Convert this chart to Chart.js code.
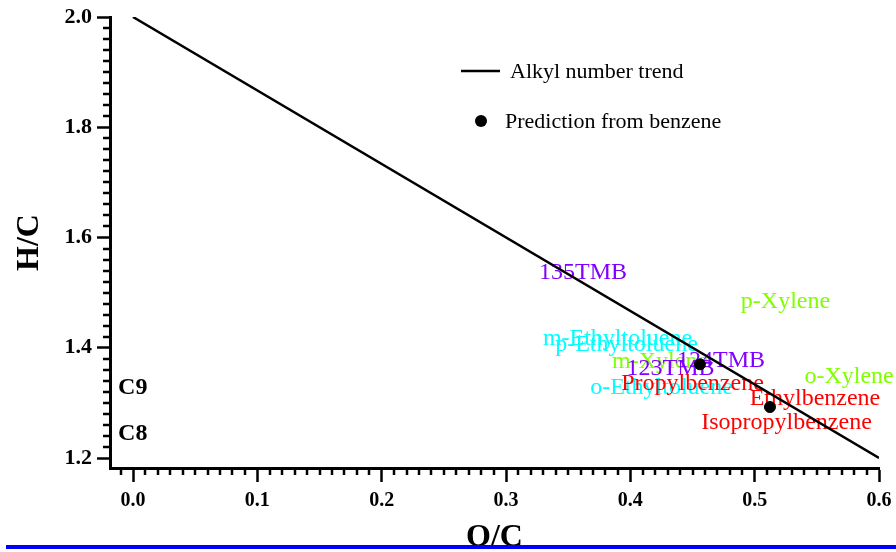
<!DOCTYPE html>
<html lang="en">
<head>
  <meta charset="UTF-8">
  <title>H/C vs O/C</title>
  <script src="https://cdn.jsdelivr.net/npm/chart.js"></script>
  <style>
    html, body { margin: 0; padding: 0; background: #fff; }
    #wrap { width: 896px; height: 552px; }
  </style>
</head>
<body>
  <div id="wrap"><canvas id="chart" width="896" height="552"></canvas></div>

  <script>
    // trend line and predicted points
    const trendOC = [0, 0.6];
    const trendHC = [2.0, 1.2];
    const predOC  = [0.456, 0.5123];
    const predHC  = [1.370, 1.2925];

    // compound labels (drawn in this order)
    const compoundNames  = ['m-Ethyltoluene', 'p-Ethyltoluene', 'o-Ethyltoluene',
                            'p-Xylene', 'm-Xylene', 'o-Xylene',
                            '135TMB', '124TMB', '123TMB',
                            'Propylbenzene', 'Ethylbenzene', 'Isopropylbenzene'];
    const compoundOC     = [0.3897, 0.3969, 0.4251,
                            0.5248, 0.4239, 0.5759,
                            0.3620, 0.4729, 0.4323,
                            0.4500, 0.5485, 0.5256];
    const compoundHC     = [1.420, 1.409, 1.332,
                            1.488, 1.378, 1.351,
                            1.539, 1.381, 1.365,
                            1.338, 1.311, 1.267];
    const compoundColors = ['#00ffff', '#00ffff', '#00ffff',
                            '#80ff00', '#80ff00', '#80ff00',
                            '#8000ff', '#8000ff', '#8000ff',
                            '#ff0000', '#ff0000', '#ff0000'];

    const carbonLabels = ['C9', 'C8'];
    const carbonHC     = [1.333, 1.25];

    const xTicks = [0, 0.1, 0.2, 0.3, 0.4, 0.5, 0.6];
    const yTicks = [1.2, 1.4, 1.6, 1.8, 2.0];

    const SERIF = '"Liberation Serif", "Times New Roman", serif';

    const decor = {
      id: 'decor',
      beforeDatasetsDraw(chart) {
        const { ctx, scales: { x, y } } = chart;
        ctx.save();
        ctx.font = '24px ' + SERIF;
        ctx.textAlign = 'center';
        ctx.textBaseline = 'middle';
        compoundNames.forEach((n, i) => {
          ctx.fillStyle = compoundColors[i];
          ctx.fillText(n, x.getPixelForValue(compoundOC[i]), y.getPixelForValue(compoundHC[i]) + 2);
        });
        ctx.font = 'bold 24px ' + SERIF;
        ctx.textAlign = 'left';
        ctx.fillStyle = '#000';
        carbonLabels.forEach((t, i) => {
          ctx.fillText(t, x.getPixelForValue(-0.012), y.getPixelForValue(carbonHC[i]) + 3);
        });
        ctx.restore();
      },
      afterDraw(chart) {
        const { ctx, scales: { x, y }, chartArea: ca } = chart;
        ctx.save();
        // minor ticks
        ctx.strokeStyle = '#000';
        ctx.lineWidth = 2.5;
        ctx.beginPath();
        for (let i = -1; i <= 60; i++) {
          if (i % 10 === 0) continue;
          const px = Math.round(x.getPixelForValue(i / 100));
          ctx.moveTo(px, ca.bottom);
          ctx.lineTo(px, ca.bottom + 7);
        }
        for (let i = 0; i <= 40; i++) {
          if (i % 10 === 0) continue;
          const py = Math.round(y.getPixelForValue(1.2 + i * 0.02));
          ctx.moveTo(ca.left, py);
          ctx.lineTo(ca.left - 7, py);
        }
        ctx.stroke();

        // legend
        const ds = chart.data.datasets;
        ctx.font = '22px ' + SERIF;
        ctx.textBaseline = 'middle';
        ctx.textAlign = 'left';
        ctx.fillStyle = '#000';
        ctx.beginPath();
        ctx.moveTo(461, 71);
        ctx.lineTo(500, 71);
        ctx.stroke();
        ctx.fillText(ds[0].label, 510, 72);
        ctx.beginPath();
        ctx.arc(481, 121, 6, 0, Math.PI * 2);
        ctx.fill();
        ctx.fillText(ds[1].label, 505, 122);

        // blue strip along the bottom
        ctx.fillStyle = '#0000ff';
        ctx.fillRect(6, 545, 890, 4);
        ctx.restore();
      }
    };

    const ctx = document.getElementById('chart').getContext('2d');
    new Chart(ctx, {
      type: 'scatter',
      data: {
        datasets: [
          {
            type: 'line',
            label: 'Alkyl number trend',
            data: trendOC.map((v, i) => ({ x: v, y: trendHC[i] })),
            borderColor: '#000',
            borderWidth: 2.5,
            pointRadius: 0,
            fill: false
          },
          {
            label: 'Prediction from benzene',
            data: predOC.map((v, i) => ({ x: v, y: predHC[i] })),
            backgroundColor: '#000',
            borderColor: '#000',
            pointRadius: 5.5
          }
        ]
      },
      options: {
        responsive: false,
        animation: false,
        layout: { padding: { top: 17, right: 17, bottom: 0, left: 0 } },
        plugins: { legend: { display: false }, tooltip: { enabled: false } },
        scales: {
          x: {
            type: 'linear',
            min: -0.0185,
            max: 0.6,
            afterFit(s) { s.height = 84; s.paddingLeft = 0; s.paddingRight = 0; },
            afterBuildTicks(s) { s.ticks = xTicks.map(v => ({ value: v })); },
            border: { color: '#000', width: 3 },
            grid: { drawOnChartArea: false, tickLength: 14, tickWidth: 2.5, tickColor: '#000' },
            ticks: {
              color: '#000',
              padding: 7,
              font: { family: SERIF, size: 20, weight: 'bold' },
              callback: v => v.toFixed(1)
            },
            title: {
              display: true,
              text: 'O/C',
              color: '#000',
              padding: { top: 0, bottom: -5 },
              font: { family: SERIF, size: 32, weight: 'bold' }
            }
          },
          y: {
            min: 1.1819,
            max: 2.0,
            afterFit(s) { s.width = 110; s.paddingTop = 0; s.paddingBottom = 0; },
            afterBuildTicks(s) { s.ticks = yTicks.map(v => ({ value: v })); },
            border: { color: '#000', width: 3 },
            grid: { drawOnChartArea: false, tickLength: 13, tickWidth: 2.5, tickColor: '#000' },
            ticks: {
              color: '#000',
              padding: 5,
              font: { family: SERIF, size: 22, weight: 'bold' },
              callback: v => v.toFixed(1)
            },
            title: {
              display: true,
              text: 'H/C',
              color: '#000',
              padding: { top: 11, bottom: 0 },
              font: { family: SERIF, size: 32, weight: 'bold' }
            }
          }
        }
      },
      plugins: [decor]
    });
  </script>
</body>
</html>
